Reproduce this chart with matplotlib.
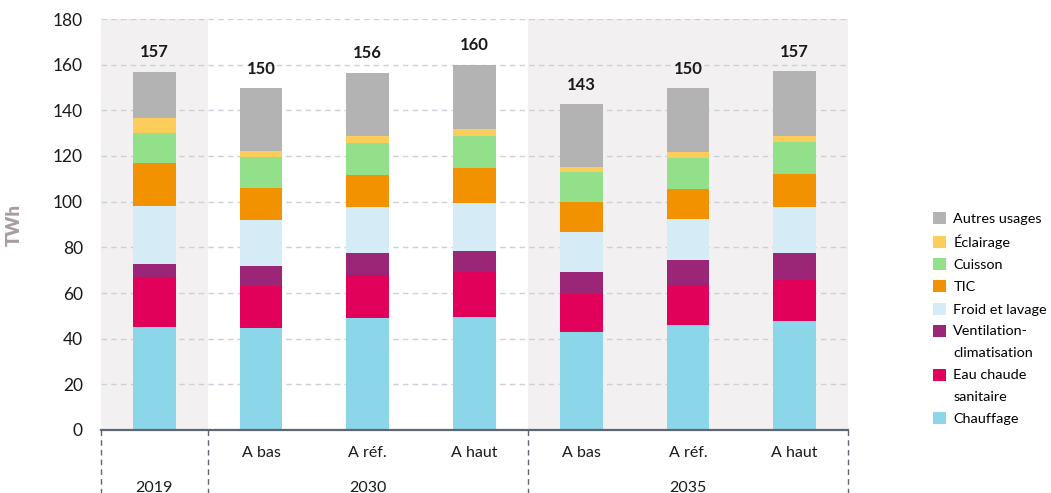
import matplotlib
matplotlib.use("Agg")
import matplotlib.pyplot as plt
import numpy as np
from matplotlib.patches import Patch, Rectangle
from matplotlib.lines import Line2D
from matplotlib.legend_handler import HandlerPatch

plt.rcParams['font.family'] = ['Lato', 'DejaVu Sans']

scenarios = ["", "A bas", "A réf.", "A haut", "A bas", "A réf.", "A haut"]
groups = ["2019", "2030", "2035"]
group_sizes = [1, 3, 3]
totals = [157, 150, 156, 160, 143, 150, 157]

series_names = ["Chauffage", "Eau chaude\nsanitaire", "Ventilation-\nclimatisation",
                "Froid et lavage", "TIC", "Cuisson", "Éclairage", "Autres usages"]
chauffage   = [45.1, 44.7, 49.1, 49.5, 42.9, 46.0, 47.7]
eau_chaude  = [21.9, 18.5, 18.8, 19.7, 16.8, 17.4, 18.0]
ventilation = [5.7, 8.6, 9.6, 9.2, 9.5, 11.1, 11.8]
froid       = [25.4, 20.2, 20.2, 21.0, 17.5, 17.9, 20.2]
tic         = [18.9, 14.0, 14.0, 15.4, 13.2, 13.2, 14.4]
cuisson     = [13.1, 13.6, 14.0, 14.0, 13.1, 13.5, 14.0]
eclairage   = [6.6, 2.6, 3.1, 3.0, 2.2, 2.7, 2.7]
autres      = [20.3, 27.6, 27.6, 28.1, 27.6, 28.0, 28.4]
series = [chauffage, eau_chaude, ventilation, froid, tic, cuisson, eclairage, autres]
colors = ["#8CD6EA", "#E1005A", "#9B2576", "#D5ECF7", "#F39200", "#92E08A", "#FCCD5A", "#B3B3B3"]

fig = plt.figure(figsize=(10.51, 4.93), dpi=100)
ax = fig.add_axes([101/1051, 1 - 430/493, (848-101)/1051, (430-19)/493])

x = np.arange(len(scenarios))
ax.set_xlim(-0.5, len(scenarios) - 0.5)
ax.set_ylim(0, 180)

# background shading for 2019 and 2035 groups
ax.axvspan(-0.5, 0.5, color="#F2F0F1", zorder=0, lw=0)
ax.axvspan(3.5, 6.5, color="#F2F0F1", zorder=0, lw=0)

for yv in range(20, 181, 20):
    ax.axhline(yv, color="#CDD0D8", lw=1.0, ls=(0, (4, 3)), zorder=1)

bottom = np.zeros(len(scenarios))
for vals, c, name in zip(series, colors, series_names):
    ax.bar(x, vals, width=0.4, bottom=bottom, color=c, zorder=2, label=name, lw=0)
    bottom += np.array(vals)

for xi, t, b in zip(x, totals, bottom):
    ax.text(xi, b + 5, f"{t}", ha="center", va="bottom", fontsize=12, fontweight="bold", color="#1a1a1a")

for s in ["top", "right", "left"]:
    ax.spines[s].set_visible(False)
ax.spines["bottom"].set_color("#5F6670")
ax.spines["bottom"].set_linewidth(1.6)
ax.set_xticks([])
ax.set_yticks(range(0, 181, 20))
ax.tick_params(axis="y", length=0, labelsize=12.5, pad=13, colors="#1a1a1a")
ax.set_ylabel("TWh", fontsize=13.5, fontweight="heavy", color="#A89CA0", labelpad=22)

trans = ax.get_xaxis_transform()
for xi, lab in zip(x, scenarios):
    if lab:
        ax.text(xi, -0.055, lab, transform=trans, ha="center", va="center", fontsize=11.5, color="#1a1a1a", clip_on=False)

start = 0
bounds = [-0.5]
for g, n in zip(groups, group_sizes):
    center = start + (n - 1) / 2
    ax.text(center, -0.14, g, transform=trans, ha="center", va="center", fontsize=11.5, color="#1a1a1a", clip_on=False)
    start += n
    bounds.append(start - 0.5)
for bx in bounds:
    ax.add_line(Line2D([bx, bx], [0, -0.16], transform=trans, color="#5F6670", lw=1.0,
                       ls=(0, (4, 3)), clip_on=False))


def top_patch(legend, orig_handle, xdescent, ydescent, width, height, fontsize):
    return Rectangle((-xdescent, -ydescent + 8.0), width, height)


handles = [Patch(facecolor=c, edgecolor="none") for c in colors][::-1]
labels = series_names[::-1]
hmap = {h: HandlerPatch(patch_func=top_patch) for h, l in zip(handles, labels) if "\n" in l}
leg = fig.legend(handles, labels, loc="upper left", bbox_to_anchor=(926/1051, 1 - 205/493),
                 frameon=False, fontsize=10.4, handlelength=0.9, handleheight=0.9,
                 handletextpad=0.5, labelspacing=0.64, borderpad=0, handler_map=hmap)
for t in leg.get_texts():
    t.set_linespacing(2.05)

fig.savefig("out.png", dpi=100)
